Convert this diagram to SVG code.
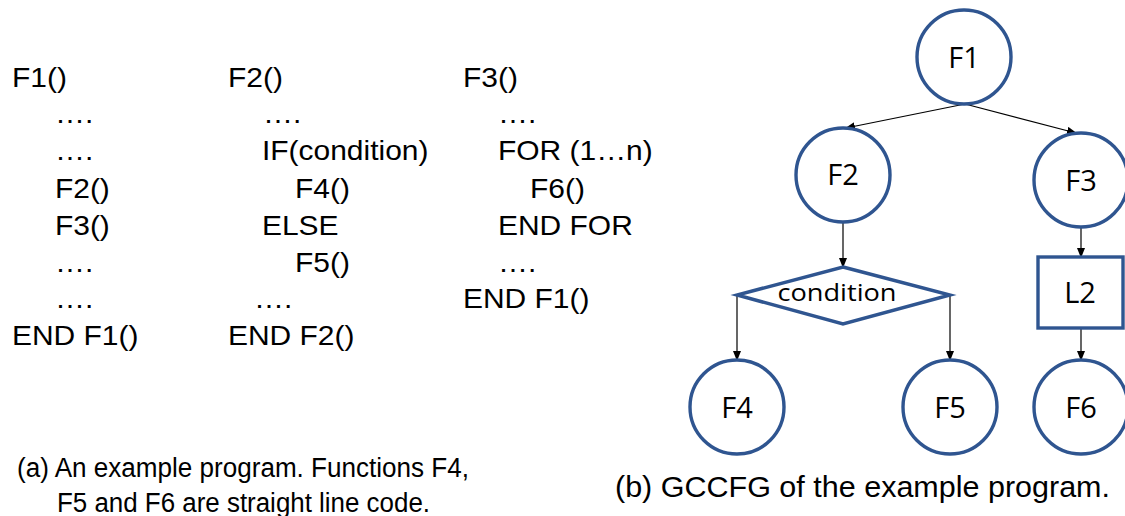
<svg xmlns="http://www.w3.org/2000/svg" width="1125" height="516" viewBox="0 0 1125 516">
<style>
.code{font-family:"Liberation Sans",Arial,sans-serif;font-size:27px;fill:#000}
.cap{font-family:"Liberation Sans",Arial,sans-serif;font-size:27px;fill:#000}
.lbl{font-family:"Open Sans","Noto Sans",sans-serif;font-size:29px;fill:#000;text-anchor:middle}
.node{fill:#fff;stroke:#2F5590;stroke-width:3.4}
.edge{stroke:#000;stroke-width:1.2;fill:none;marker-end:url(#arr)}
</style>
<defs>
<marker id="arr" markerWidth="10" markerHeight="8" refX="9" refY="4" orient="auto" markerUnits="userSpaceOnUse">
<path d="M0,0 L10,4 L0,8 Z" fill="#000"/>
</marker>
</defs>
<rect width="1125" height="516" fill="#fff"/>
<g id="code" transform="matrix(1.11 0 0 1 0 0)">
<text class="code" x="10.8" y="87">F1()</text>
<text class="code" x="49.5" y="123">….</text>
<text class="code" x="49.5" y="160">….</text>
<text class="code" x="49.5" y="198">F2()</text>
<text class="code" x="49.5" y="235">F3()</text>
<text class="code" x="49.5" y="272">….</text>
<text class="code" x="49.5" y="308">….</text>
<text class="code" x="10.8" y="345">END F1()</text>
<text class="code" x="205.4" y="87">F2()</text>
<text class="code" x="236.9" y="123">….</text>
<text class="code" x="236" y="160">IF(condition)</text>
<text class="code" x="265.8" y="198">F4()</text>
<text class="code" x="236" y="235">ELSE</text>
<text class="code" x="265.8" y="272">F5()</text>
<text class="code" x="228.8" y="308">….</text>
<text class="code" x="205.4" y="345">END F2()</text>
<text class="code" x="417.1" y="87">F3()</text>
<text class="code" x="448.6" y="123">….</text>
<text class="code" x="448.6" y="160">FOR (1…n)</text>
<text class="code" x="477.5" y="198">F6()</text>
<text class="code" x="448.6" y="235">END FOR</text>
<text class="code" x="448.6" y="272">….</text>
<text class="code" x="417.1" y="308">END F1()</text>
</g>
<g id="caption-a">
<text class="cap" x="17" y="477" textLength="452" lengthAdjust="spacingAndGlyphs">(a) An example program. Functions F4,</text>
<text class="cap" x="57" y="512" textLength="373" lengthAdjust="spacingAndGlyphs">F5 and F6 are straight line code.</text>
</g>
<g id="caption-b">
<text class="cap" x="615" y="497" style="font-size:29px" textLength="495" lengthAdjust="spacingAndGlyphs">(b) GCCFG of the example program.</text>
</g>
<g id="connectors">
<line class="edge" x1="965" y1="104" x2="846" y2="128"/>
<line class="edge" x1="965" y1="104" x2="1076" y2="133"/>
<line class="edge" x1="843" y1="222" x2="843" y2="267"/>
<line class="edge" x1="737" y1="295" x2="737" y2="360"/>
<line class="edge" x1="950" y1="295" x2="950" y2="360"/>
<line class="edge" x1="1081" y1="227" x2="1081" y2="257"/>
<line class="edge" x1="1081" y1="328" x2="1081" y2="360"/>
</g>
<g id="F1"><circle class="node" cx="964" cy="57" r="47"/><text class="lbl" x="964" y="68">F1</text></g>
<g id="F2"><circle class="node" cx="843" cy="175" r="47"/><text class="lbl" x="843" y="185">F2</text></g>
<g id="F3"><circle class="node" cx="1081" cy="180" r="47"/><text class="lbl" x="1081" y="191">F3</text></g>
<g id="condition"><polygon class="node" points="843,267 950,295 843,324 737,295"/><text class="lbl" x="837" y="301" style="font-size:24px" textLength="119" lengthAdjust="spacingAndGlyphs">condition</text></g>
<g id="L2"><rect class="node" x="1038" y="257" width="85" height="71"/><text class="lbl" x="1080" y="303">L2</text></g>
<g id="F4"><circle class="node" cx="737" cy="407" r="47"/><text class="lbl" x="737" y="418">F4</text></g>
<g id="F5"><circle class="node" cx="950" cy="407" r="47"/><text class="lbl" x="950" y="418">F5</text></g>
<g id="F6"><circle class="node" cx="1081" cy="407" r="47"/><text class="lbl" x="1081" y="418">F6</text></g>
</svg>
